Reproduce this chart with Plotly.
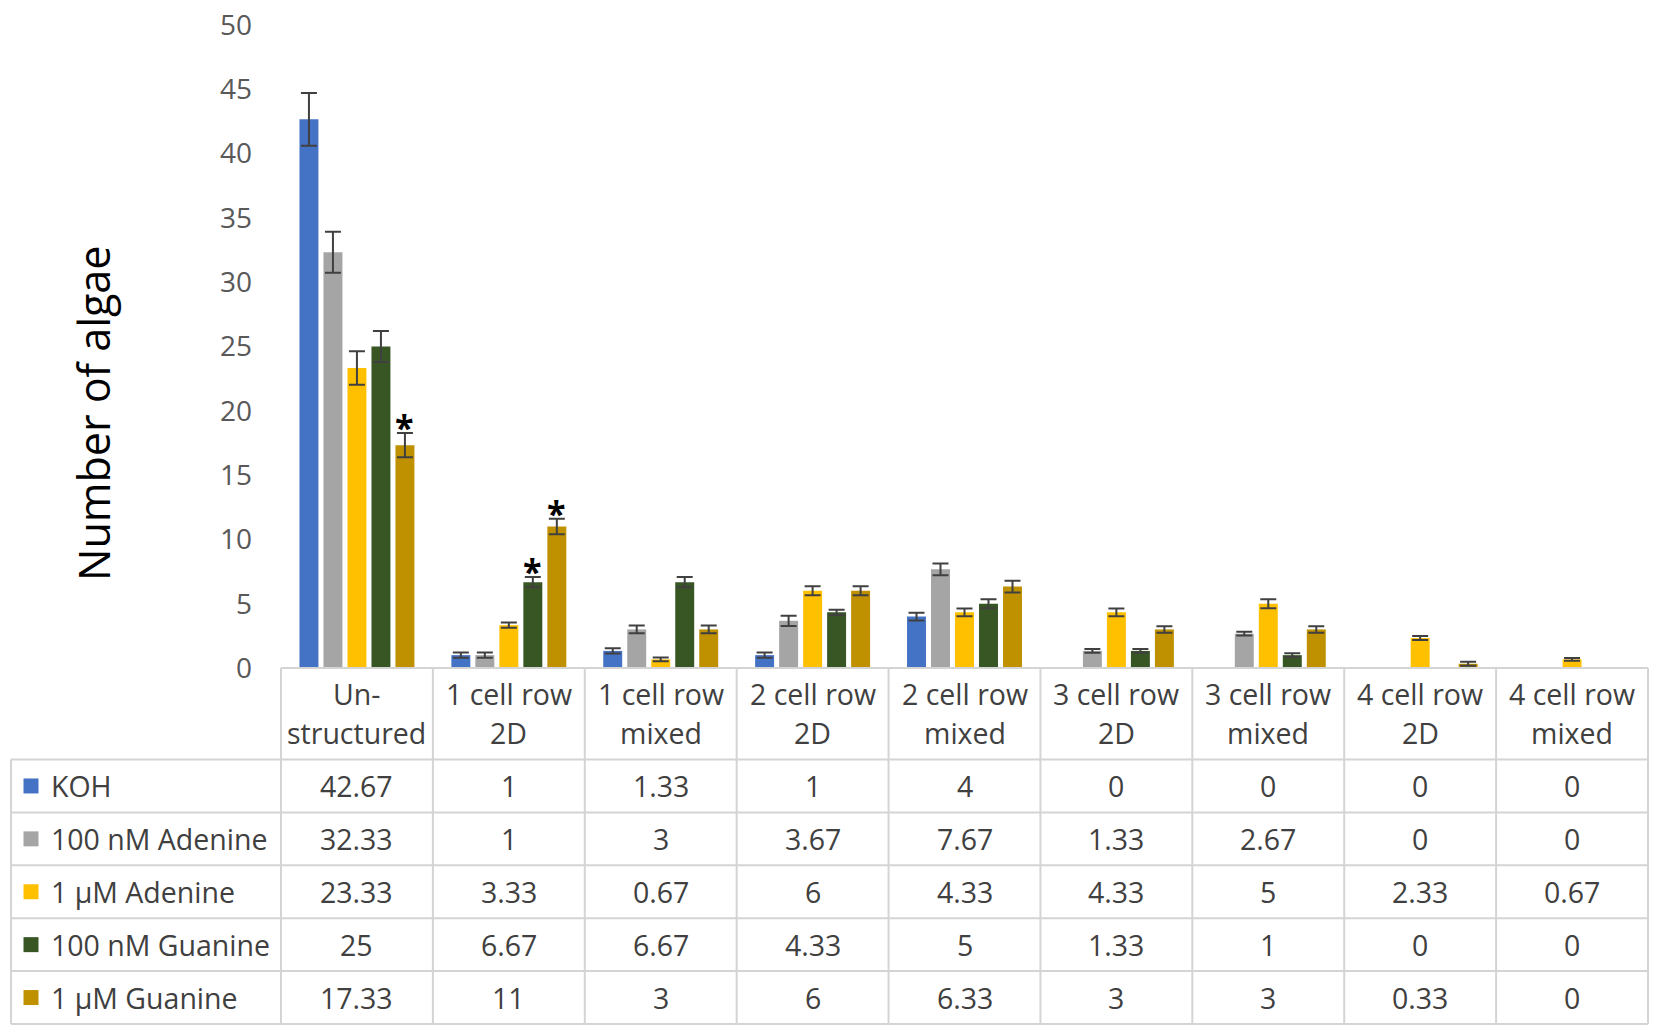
import numpy as np
import plotly.graph_objects as go

# chart data
categories = ["Un-<br>structured", "1 cell row<br>2D", "1 cell row<br>mixed",
              "2 cell row<br>2D", "2 cell row<br>mixed", "3 cell row<br>2D",
              "3 cell row<br>mixed", "4 cell row<br>2D", "4 cell row<br>mixed"]

series_names = ["KOH", "100 nM Adenine", "1 µM Adenine", "100 nM Guanine", "1 µM Guanine"]

koh = [42.67, 1, 1.33, 1, 4, 0, 0, 0, 0]
adenine_100nm = [32.33, 1, 3, 3.67, 7.67, 1.33, 2.67, 0, 0]
adenine_1um = [23.33, 3.33, 0.67, 6, 4.33, 4.33, 5, 2.33, 0.67]
guanine_100nm = [25, 6.67, 6.67, 4.33, 5, 1.33, 1, 0, 0]
guanine_1um = [17.33, 11, 3, 6, 6.33, 3, 3, 0.33, 0]

# error bars (estimated)
koh_err = [2.05, 0.2, 0.2, 0.2, 0.3, 0, 0, 0, 0]
adenine_100nm_err = [1.6, 0.2, 0.3, 0.4, 0.45, 0.15, 0.15, 0, 0]
adenine_1um_err = [1.3, 0.2, 0.15, 0.35, 0.3, 0.3, 0.35, 0.15, 0.1]
guanine_100nm_err = [1.2, 0.4, 0.4, 0.2, 0.35, 0.15, 0.15, 0, 0]
guanine_1um_err = [0.95, 0.6, 0.3, 0.35, 0.45, 0.25, 0.25, 0.15, 0]

# significance marks (1 = asterisk)
guanine_100nm_sig = [0, 1, 0, 0, 0, 0, 0, 0, 0]
guanine_1um_sig = [1, 1, 0, 0, 0, 0, 0, 0, 0]

values = [koh, adenine_100nm, adenine_1um, guanine_100nm, guanine_1um]
errors = [koh_err, adenine_100nm_err, adenine_1um_err, guanine_100nm_err, guanine_1um_err]
sigs = [[0] * 9, [0] * 9, [0] * 9, guanine_100nm_sig, guanine_1um_sig]
colors = ["#4472C4", "#A5A5A5", "#FFC000", "#375623", "#BF9000"]

W, H = 1654, 1032
FONT = "Open Sans"
TXT = "#404040"

# pixel layout
plot_left, plot_right = 281, 1648
plot_top, plot_bottom = 25, 668
table_left, table_bottom = 11, 1024
pad = 4
header_rows = 1.73  # header height in row units
n_rows = len(series_names)
col_w = (plot_right - plot_left) / len(categories)
row_h = (table_bottom - plot_bottom) / (n_rows + header_rows)
label_w = (plot_left - table_left) / col_w

fig = go.Figure()

for i, name in enumerate(series_names):
    # no error bar on empty bars
    err = np.array([e if v else np.nan for v, e in zip(values[i], errors[i])], dtype=float)
    fig.add_trace(go.Bar(
        x=list(range(len(categories))), y=values[i], name=name,
        marker=dict(color=colors[i], line=dict(width=0)),
        error_y=dict(type="data", array=err, visible=True,
                     color="#404040", thickness=2, width=8),
        xaxis="x", yaxis="y", showlegend=False,
    ))

# asterisks
n = len(series_names)
for i in range(n):
    for j, s in enumerate(sigs[i]):
        if s:
            fig.add_annotation(
                x=j + (i - (n - 1) / 2) * 0.158, y=values[i][j] + errors[i][j],
                xref="x", yref="y", text="<b>*</b>", showarrow=False,
                xanchor="center", yanchor="middle", yshift=6,
                font=dict(family=FONT, size=34, color="black"))

# table: grid lines
grid = dict(color="#D4D4D4", width=2)
x_left = -0.5 - label_w
x_cols = [k - 0.5 for k in range(len(categories) + 1)]
top_y = n_rows + header_rows
for r in range(n_rows + 1):
    fig.add_shape(type="line", xref="x2", yref="y2", x0=x_left, x1=x_cols[-1],
                  y0=r, y1=r, line=grid)
fig.add_shape(type="line", xref="x2", yref="y2", x0=x_cols[0], x1=x_cols[-1],
              y0=top_y, y1=top_y, line=grid)
fig.add_shape(type="line", xref="x2", yref="y2", x0=x_left, x1=x_left,
              y0=0, y1=n_rows, line=grid)
for xc in x_cols:
    fig.add_shape(type="line", xref="x2", yref="y2", x0=xc, x1=xc,
                  y0=0, y1=top_y, line=grid)

# header text, two lines per cell
for j, c in enumerate(categories):
    lines = c.split("<br>")
    for k, t in enumerate(lines):
        fig.add_annotation(x=j, y=n_rows + header_rows / 2 + (0.5 - k) * 0.74,
                           xref="x2", yref="y2", text=t, showarrow=False,
                           xanchor="center", yanchor="middle",
                           font=dict(family=FONT, size=28.5, color=TXT))

# cell values
for i, name in enumerate(series_names):
    yc = n_rows - i - 0.5
    for j, v in enumerate(values[i]):
        fig.add_annotation(x=j, y=yc, xref="x2", yref="y2", text=f"{v:g}",
                           showarrow=False, xanchor="center", yanchor="middle",
                           font=dict(family=FONT, size=28.5, color=TXT))
    fig.add_annotation(x=x_left + 38 / col_w, y=yc, xref="x2", yref="y2",
                       text=name, showarrow=False, xanchor="left", yanchor="middle",
                       font=dict(family=FONT, size=28.5, color=TXT))

# legend keys
fig.add_trace(go.Scatter(
    x=[x_left + 20 / col_w] * n_rows,
    y=[n_rows - i - 0.5 for i in range(n_rows)],
    mode="markers", xaxis="x2", yaxis="y2", showlegend=False,
    marker=dict(symbol="square", size=15, color=colors, line=dict(width=0)),
    hoverinfo="skip",
))

# y title
fig.add_annotation(x=93 / W, y=1 - 414 / H, xref="paper", yref="paper",
                   text="Number of algae", textangle=-90, showarrow=False,
                   xanchor="center", yanchor="middle",
                   font=dict(family=FONT, size=43, color="black"))

fig.update_layout(
    width=W, height=H,
    margin=dict(l=0, r=0, t=0, b=0, autoexpand=False),
    paper_bgcolor="white", plot_bgcolor="rgba(0,0,0,0)",
    barmode="group", bargap=0.21, bargroupgap=0.21,
    font=dict(family=FONT),
    xaxis=dict(domain=[plot_left / W, plot_right / W], range=[-0.5, len(categories) - 0.5],
               showticklabels=False, showgrid=False, zeroline=False, showline=False,
               automargin=False, anchor="y"),
    yaxis=dict(domain=[1 - plot_bottom / H, 1 - plot_top / H], range=[0, 50], dtick=5,
               showgrid=False, zeroline=False, showline=False,
               ticks="", ticklabelstandoff=28, automargin=False,
               tickfont=dict(family=FONT, size=28, color="#595959"),
               anchor="x"),
    xaxis2=dict(domain=[(table_left - pad) / W, (plot_right + pad) / W],
                range=[x_left - pad / col_w, len(categories) - 0.5 + pad / col_w],
                visible=False, automargin=False, anchor="y2"),
    yaxis2=dict(domain=[1 - (table_bottom + pad) / H, 1 - (plot_bottom - pad) / H],
                range=[-pad / row_h, top_y + pad / row_h],
                visible=False, automargin=False, anchor="x2"),
)

fig.write_html("out.html", config={"displayModeBar": False},
               post_script="document.body.style.margin='0';")
